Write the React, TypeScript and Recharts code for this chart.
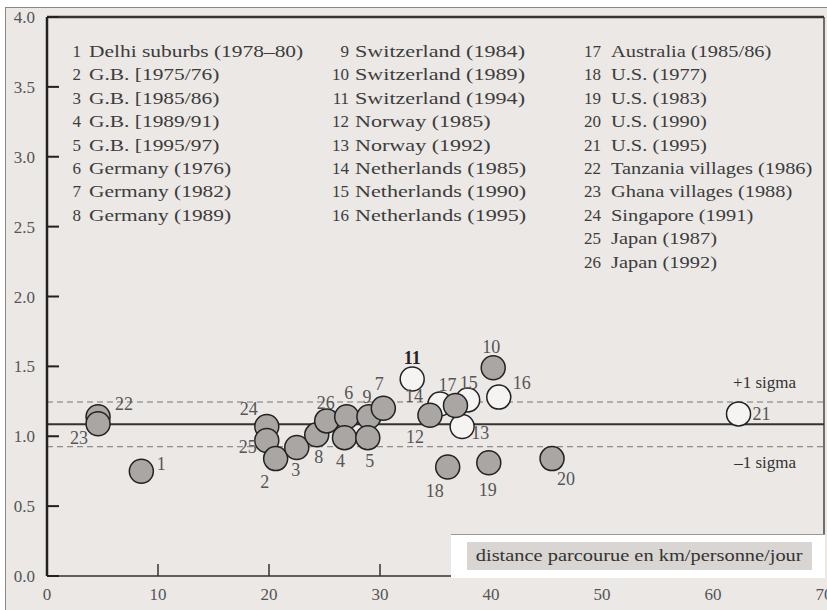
import { ReferenceLine, Scatter, ScatterChart, XAxis, YAxis } from "recharts";

// legend names, numbered 1..26
const studyNames = [
  "Delhi suburbs (1978–80)",
  "G.B. [1975/76)",
  "G.B. [1985/86)",
  "G.B. [1989/91)",
  "G.B. [1995/97)",
  "Germany (1976)",
  "Germany (1982)",
  "Germany (1989)",
  "Switzerland (1984)",
  "Switzerland (1989)",
  "Switzerland (1994)",
  "Norway (1985)",
  "Norway (1992)",
  "Netherlands (1985)",
  "Netherlands (1990)",
  "Netherlands (1995)",
  "Australia (1985/86)",
  "U.S. (1977)",
  "U.S. (1983)",
  "U.S. (1990)",
  "U.S. (1995)",
  "Tanzania villages (1986)",
  "Ghana villages (1988)",
  "Singapore (1991)",
  "Japan (1987)",
  "Japan (1992)"
];

// km per person per day vs. daily travel time (h)
const filledPoints = [
  { id: 22, x: 4.6, y: 1.14 },
  { id: 23, x: 4.6, y: 1.09 },
  { id: 1, x: 8.5, y: 0.75 },
  { id: 24, x: 19.8, y: 1.07 },
  { id: 25, x: 19.8, y: 0.97 },
  { id: 2, x: 20.6, y: 0.84 },
  { id: 3, x: 22.5, y: 0.92 },
  { id: 8, x: 24.3, y: 1.01 },
  { id: 26, x: 25.2, y: 1.11 },
  { id: 6, x: 27.0, y: 1.14 },
  { id: 4, x: 26.8, y: 0.99 },
  { id: 9, x: 29.0, y: 1.14 },
  { id: 5, x: 28.9, y: 0.99 },
  { id: 7, x: 30.3, y: 1.2 },
  { id: 12, x: 34.5, y: 1.15 },
  { id: 17, x: 36.8, y: 1.22 },
  { id: 18, x: 36.1, y: 0.78 },
  { id: 19, x: 39.8, y: 0.81 },
  { id: 10, x: 40.2, y: 1.49 },
  { id: 20, x: 45.5, y: 0.84 }
];

const openPoints = [
  { id: 11, x: 32.9, y: 1.41 },
  { id: 14, x: 35.4, y: 1.23 },
  { id: 15, x: 37.9, y: 1.26 },
  { id: 13, x: 37.4, y: 1.07 },
  { id: 16, x: 40.7, y: 1.28 },
  { id: 21, x: 62.3, y: 1.16 }
];

const meanValue = 1.085;
const sigmaValue = 0.16;

const xTicks = [0, 10, 20, 30, 40, 50, 60, 70];
const yTicks = [0, 0.5, 1, 1.5, 2, 2.5, 3, 3.5, 4];

// where each number sits relative to its circle (px)
const labelOffsets: Record<number, [number, number]> = {
  1: [20, -7], 2: [-11, 23], 3: [-1, 23], 4: [-4, 23], 5: [2, 23],
  6: [2, -24], 7: [-4, -24], 8: [2, 22], 9: [-2, -20], 10: [-2, -21],
  11: [0, -21], 12: [-15, 22], 13: [18, 7], 14: [-26, -8], 15: [1, -17],
  16: [23, -14], 17: [-8, -21], 18: [-13, 24], 19: [-1, 27], 20: [14, 20],
  21: [23, 0], 22: [26, -13], 23: [-19, 14], 24: [-18, -17], 25: [-19, 7],
  26: [-1, -18]
};

const serif = "'Liberation Serif', 'Times New Roman', serif";
const R = 12;

const FilledDot = (p: any) => (
  <circle cx={p.cx} cy={p.cy} r={R} fill="#a9a6a4" stroke="#222" strokeWidth={1.5} />
);
const OpenDot = (p: any) => (
  <circle cx={p.cx} cy={p.cy} r={R} fill="#f6f4f3" stroke="#222" strokeWidth={1.5} />
);
const NumberLabel = (p: any) => {
  const [dx, dy] = labelOffsets[p.payload.id] ?? [0, 0];
  const strong = p.payload.id === 11;
  return (
    <text
      x={p.cx + dx}
      y={p.cy + dy}
      textAnchor="middle"
      dominantBaseline="central"
      fontFamily={serif}
      fontSize={18}
      fontWeight={strong ? "bold" : "normal"}
      fill={strong ? "#222" : "#555"}
    >
      {p.payload.id}
    </text>
  );
};

const allPoints = [...filledPoints, ...openPoints];

// legend column layout (page px)
const colNumRight = [80, 348, 600];
const colTextLeft = [88, 354, 610];
const colScale = [1.26, 1.3, 1.2];

function LegendBlock() {
  return (
    <>
      {studyNames.map((name, i) => {
        const col = i < 8 ? 0 : i < 16 ? 1 : 2;
        const row = col === 2 ? i - 16 : i % 8;
        const top = 51 + row * 23.4 - 12 - 7;
        const common = {
          position: "absolute" as const,
          top,
          height: 24,
          lineHeight: "24px",
          whiteSpace: "nowrap" as const,
          fontFamily: serif,
          fontSize: 17,
          color: "#3c3c3c"
        };
        return (
          <div key={name + i}>
            <div style={{ ...common, left: colNumRight[col] - 5 - 30, width: 30, textAlign: "right" }}>
              {i + 1}
            </div>
            <div
              style={{
                ...common,
                left: colTextLeft[col] - 5,
                transform: `scaleX(${colScale[col]})`,
                transformOrigin: "left center"
              }}
            >
              {name}
            </div>
          </div>
        );
      })}
    </>
  );
}

const sigmaLabel = (text: string, dy: number) => (props: any) => {
  const vb = props.viewBox;
  return (
    <text
      x={vb.x + vb.width - 28}
      y={vb.y + dy}
      textAnchor="end"
      dominantBaseline="central"
      fontFamily={serif}
      fontSize={17}
      fill="#333"
    >
      {text}
    </text>
  );
};

export default function App() {
  return (
    <div
      style={{
        position: "absolute",
        left: 5,
        top: 7,
        width: 822,
        height: 603,
        boxSizing: "border-box",
        background: "#ebe8e6",
        borderTop: "1px solid #888",
        borderLeft: "1px solid #888",
        overflow: "hidden"
      }}
    >
      <ScatterChart width={821} height={602} margin={{ top: 9, right: 3, left: 0, bottom: 4 }}>
        <XAxis
          type="number"
          dataKey="x"
          domain={[0, 70]}
          ticks={xTicks}
          interval={0}
          height={30}
          tickSize={-12}
          tickMargin={24}
          axisLine={{ stroke: "#333", strokeWidth: 1.5 }}
          tickLine={{ stroke: "#333", strokeWidth: 1.5 }}
          tick={{ fontFamily: serif, fontSize: 17, fill: "#555" }}
        />
        <YAxis
          type="number"
          dataKey="y"
          domain={[0, 4]}
          ticks={yTicks}
          interval={0}
          width={41}
          tickSize={-12}
          tickMargin={24}
          tickFormatter={(v: number) => v.toFixed(1)}
          axisLine={{ stroke: "#222", strokeWidth: 2.5 }}
          tickLine={{ stroke: "#222", strokeWidth: 2 }}
          tick={{ fontFamily: serif, fontSize: 17, fill: "#555" }}
        />
        <ReferenceLine y={4} stroke="#333" strokeWidth={2.5} />
        <ReferenceLine x={70} stroke="#444" strokeWidth={1.5} />
        <ReferenceLine
          y={meanValue + sigmaValue}
          stroke="#777"
          strokeDasharray="6 4"
          label={{ content: sigmaLabel("+1 sigma", -20) }}
        />
        <ReferenceLine
          y={meanValue - sigmaValue}
          stroke="#777"
          strokeDasharray="6 4"
          label={{ content: sigmaLabel("–1 sigma", 16) }}
        />
        <ReferenceLine y={meanValue} stroke="#333" strokeWidth={2} />
        <Scatter data={openPoints} shape={OpenDot} isAnimationActive={false} />
        <Scatter data={filledPoints} shape={FilledDot} isAnimationActive={false} />
        <Scatter data={allPoints} shape={NumberLabel} isAnimationActive={false} />
      </ScatterChart>
      <LegendBlock />
      <div
        style={{
          position: "absolute",
          left: 445,
          top: 526,
          width: 374,
          height: 44,
          background: "#fff",
          borderTop: "1px solid #999",
          boxSizing: "border-box"
        }}
      >
        <div
          style={{
            position: "absolute",
            left: 16,
            top: 7,
            width: 345,
            height: 28,
            background: "#d8d5d2",
            display: "flex",
            alignItems: "center",
            justifyContent: "center"
          }}
        >
          <span
            style={{
              fontFamily: serif,
              fontSize: 17,
              color: "#333",
              display: "inline-block",
              transform: "scaleX(1.2)",
              whiteSpace: "nowrap"
            }}
          >
            distance parcourue en km/personne/jour
          </span>
        </div>
      </div>
    </div>
  );
}
